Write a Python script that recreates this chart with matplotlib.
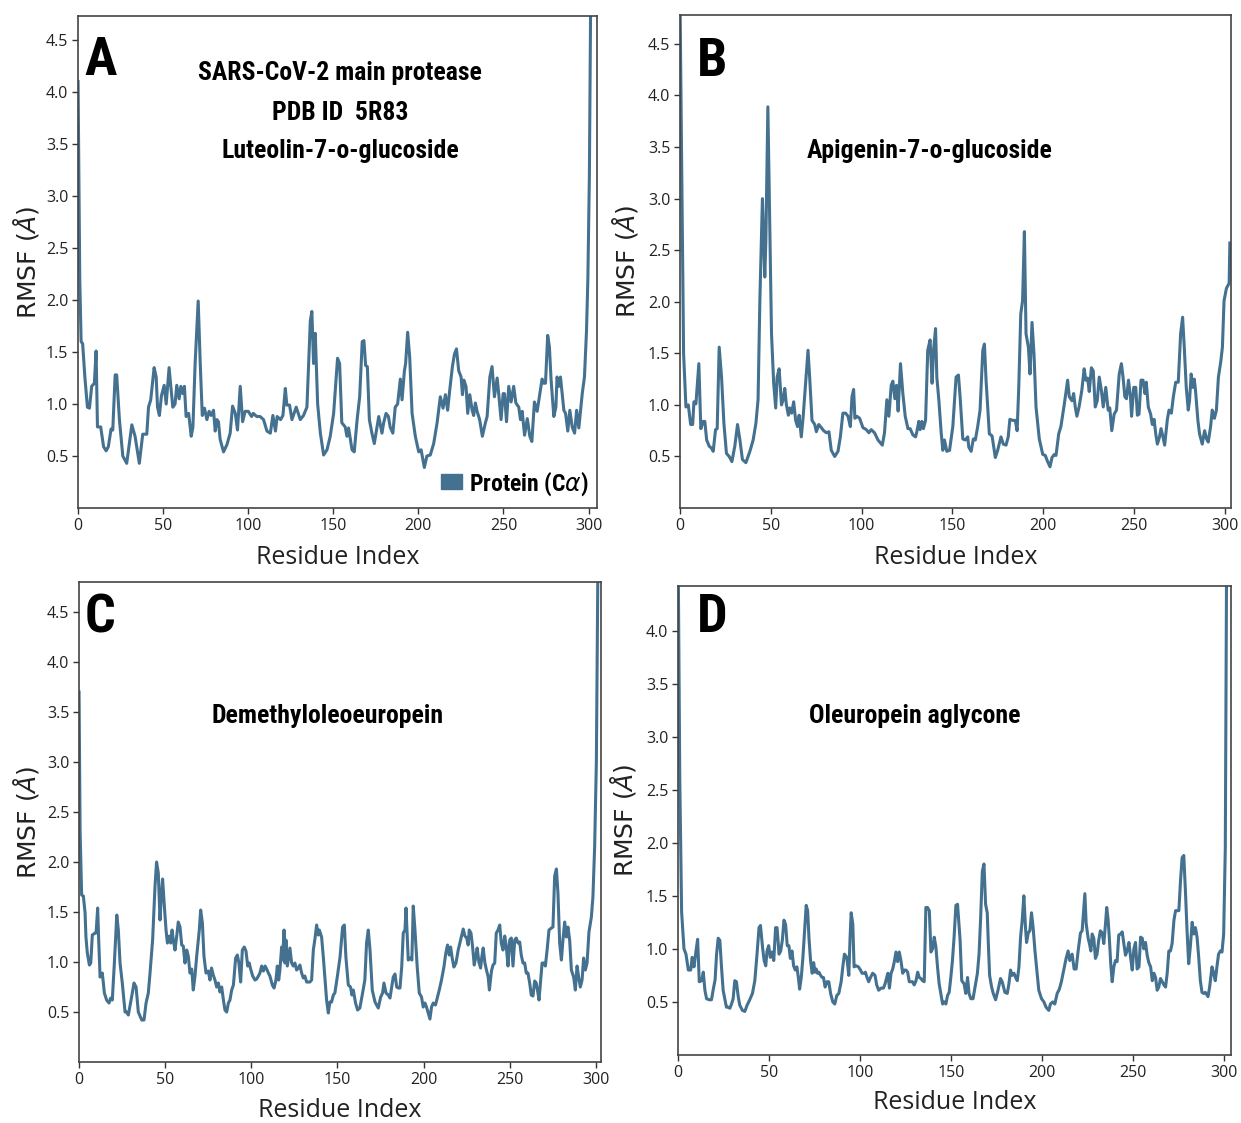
import matplotlib
matplotlib.use("Agg")
import matplotlib.pyplot as plt
from matplotlib.patches import Patch

# Panel A: Luteolin-7-o-glucoside  (residue index, RMSF in Angstrom)
res_a = [0, 1, 1.8, 2.7, 4, 5.5, 6.7, 8, 9.6, 10.6, 11.4, 13.3, 15, 16.5, 17.8, 19.4, 20.4, 21.8, 22.7, 24.3,
         26.3, 28.6, 31.6, 33.5, 36, 38, 40.4, 41.4, 42.7, 44.7, 45.9, 46.7, 47.8, 49, 50.6, 51.8, 53.5, 54.5,
         55.7, 57, 58, 59.4, 60.4, 61.6, 62.5, 63.5, 65, 66.5, 67.5, 68.8, 70.6, 71.8, 73, 74.3, 75.7, 77, 78.2,
         79.6, 80.6, 81.6, 82.5, 83.5, 85.5, 87.5, 89.4, 90.8, 92.4, 93.7, 95.3, 96.7, 98.2, 100, 102, 103, 105,
         107, 109, 111, 113, 114.5, 116, 117, 119, 120.4, 121.8, 122.7, 124.3, 125.7, 128.2, 130.6, 132.5,
         134.5, 136.5, 137.4, 138.4, 139.4, 140.8, 142.4, 144.3, 146.3, 148.2, 150.2, 152.5, 153.7, 155, 157,
         158, 159, 161, 162.3, 164, 165.5, 167, 168, 169, 170, 171.2, 172.7, 174.1, 176.7, 178.6, 179.6, 181,
         182.4, 183.4, 185, 186.4, 187.8, 189.4, 190.4, 191.8, 192.5, 193.7, 194.9, 196.3, 198.2, 200.2, 201.6,
         203.5, 205, 207, 209, 211, 212.9, 214.5, 215.9, 217.2, 218.4, 220, 221.2, 222.4, 223.7, 225.1, 225.9,
         226.7, 228, 229, 230.2, 231.6, 232.5, 233.5, 234.5, 236, 237.6, 239.4, 240.4, 242, 243.3, 244.7, 246.3,
         247.2, 248.6, 249.8, 250.6, 251.8, 253.1, 254.5, 256, 257.3, 259, 260, 261, 262.4, 264, 265.5, 266.7,
         268.2, 269.8, 271.4, 272.7, 273.7, 274.7, 276, 277, 278, 279.6, 280.8, 281.5, 282.5, 283.5, 285.5,
         286.5, 287.8, 289, 290.4, 291.8, 293, 294.3, 296.3, 297.6, 298.8, 299.6, 300.5, 301.3]
rmsf_a = [4.1, 2.2, 1.6, 1.58, 1.26, 0.97, 0.96, 1.17, 1.2, 1.51, 0.78, 0.78, 0.59, 0.55, 0.59, 0.76, 0.75, 1.28,
          1.28, 0.85, 0.5, 0.43, 0.8, 0.69, 0.43, 0.71, 0.71, 0.97, 1.04, 1.35, 1.26, 0.97, 0.89, 1.08, 1.18, 1.0,
          1.35, 1.17, 0.97, 1.0, 1.18, 1.05, 1.17, 1.1, 1.17, 0.88, 0.91, 0.69, 0.78, 1.39, 1.99, 1.39, 0.89, 0.96,
          0.85, 0.93, 0.89, 0.94, 0.74, 0.85, 0.83, 0.66, 0.54, 0.61, 0.72, 0.98, 0.91, 0.75, 1.17, 0.83, 0.93,
          0.93, 0.88, 0.91, 0.88, 0.88, 0.85, 0.74, 0.72, 0.89, 0.74, 0.88, 0.85, 0.89, 1.15, 0.99, 0.99, 0.85,
          0.97, 0.85, 0.89, 0.97, 1.8, 1.89, 1.39, 1.68, 1.0, 0.72, 0.51, 0.56, 0.69, 0.91, 1.44, 1.39, 0.82,
          0.78, 0.69, 0.77, 0.56, 0.54, 0.85, 1.07, 1.6, 1.61, 1.37, 1.36, 0.85, 0.72, 0.62, 0.88, 0.72, 0.82,
          0.91, 0.88, 0.78, 0.72, 0.97, 1.0, 1.24, 1.04, 1.32, 1.39, 1.69, 1.45, 0.91, 0.69, 0.54, 0.56, 0.39,
          0.5, 0.51, 0.62, 0.82, 1.07, 0.96, 1.09, 0.94, 1.13, 1.36, 1.48, 1.53, 1.32, 1.26, 1.09, 1.23, 1.17,
          0.91, 1.09, 0.94, 0.89, 1.01, 0.93, 0.85, 0.69, 0.82, 0.88, 1.26, 1.36, 1.07, 1.25, 1.1, 0.85, 1.1,
          1.1, 0.83, 1.17, 1.02, 1.17, 1.01, 0.97, 0.85, 0.93, 0.7, 0.86, 0.69, 0.64, 1.02, 0.93, 1.1, 1.24,
          1.2, 1.2, 1.66, 1.55, 1.23, 0.88, 0.97, 1.26, 1.17, 1.26, 0.94, 0.91, 0.74, 0.94, 0.78, 0.72, 0.94,
          0.77, 1.1, 1.26, 1.7, 2.2, 3.2, 5.0]

# Panel B: Apigenin-7-o-glucoside
res_b = [0, 1, 2, 3.3, 4.6, 5.9, 7, 7.7, 8.8, 10.4, 11.5, 12.8, 13.7, 14.7, 16.1, 17.4, 18.3, 19.6, 20.5, 21.6,
         22.9, 24.2, 25.6, 27.1, 28.6, 30.2, 31.7, 33, 34.4, 36.3, 38.5, 40.3, 41.8, 43, 44, 45.4, 46.7, 47.3,
         48.4, 49.5, 50.4, 51.6, 52.7, 53.5, 54.6, 55.9, 56.8, 57.7, 58.6, 59.7, 60.4, 61.5, 62.6, 63.7, 64.7,
         65.6, 66.8, 67.8, 69.2, 70.5, 71.4, 72.7, 74.2, 75.1, 76.4, 77.8, 79.1, 80.6, 82, 83.3, 85.2, 87, 88.3,
         89.7, 91.2, 92.5, 93.8, 94.7, 95.6, 96.3, 97.4, 98.9, 100.7, 102.6, 104, 105.3, 107.1, 109, 111.4,
         112.6, 113.9, 115, 116.3, 117.2, 118.3, 119.2, 120.1, 121.4, 122.7, 124, 125.5, 126.7, 128.2, 129.7,
         130.4, 131.5, 132.2, 133.2, 134, 135.2, 136.4, 137.7, 138.8, 139.6, 140.7, 141.4, 142.5, 143.8, 144.7,
         145.6, 146.9, 148.4, 150.2, 152, 153.3, 154.2, 155.7, 157.1, 158.4, 159, 160.3, 161.5, 162.6, 163.9,
         165.2, 166.7, 167.6, 168.5, 170.3, 171.8, 173.6, 174.9, 176.7, 178, 179.5, 180.7, 181.6, 183.2, 184.6,
         185.6, 186.5, 187.6, 188.6, 189.6, 190.5, 191.8, 192.7, 193.8, 194.9, 196, 197.8, 199.7, 201.1, 202.4,
         203.7, 204.8, 206.1, 207, 208.5, 209.7, 211.6, 213.4, 214.3, 215.8, 216.7, 217.6, 218.5, 219.7, 221.2,
         222.5, 223.4, 224.4, 225.3, 226.5, 227.5, 228.6, 229.7, 230.8, 232, 233, 234.4, 235.7, 236.6, 237.7,
         239, 240.3, 241.8, 243, 243.9, 244.9, 245.8, 246.9, 248, 248.6, 249.8, 250.9, 251.8, 252.7, 253.8,
         254.9, 256, 256.7, 257.8, 259.1, 260, 261, 261.9, 262.8, 264, 264.8, 265.9, 266.8, 268.3, 269.2, 270.5,
         271.6, 272.9, 274.3, 275.6, 276.7, 277.6, 278.7, 279.8, 280.5, 281.4, 282.3, 283.1, 283.8, 285.1, 286,
         287.5, 288.8, 289.9, 290.8, 292.1, 293, 294.2, 295.3, 296.4, 297.7, 298.6, 299.5, 300.8, 302.3, 302.7]
rmsf_b = [5.0, 3.2, 1.5, 0.98, 1.0, 0.81, 0.81, 1.03, 1.01, 1.4, 0.77, 0.84, 0.84, 0.66, 0.6, 0.58, 0.55, 0.76,
          0.77, 1.56, 1.27, 0.82, 0.53, 0.5, 0.45, 0.6, 0.81, 0.66, 0.47, 0.44, 0.55, 0.66, 0.82, 1.05, 2.02, 3.0,
          2.24, 2.6, 3.89, 2.66, 1.69, 1.21, 0.97, 1.27, 1.35, 1.0, 1.05, 1.16, 1.0, 0.9, 0.97, 0.92, 1.03, 0.85,
          0.79, 0.9, 0.69, 0.88, 1.21, 1.53, 1.27, 0.85, 0.81, 0.74, 0.81, 0.78, 0.75, 0.73, 0.74, 0.56, 0.5,
          0.55, 0.69, 0.92, 0.92, 0.89, 0.79, 1.08, 1.15, 0.87, 0.89, 0.87, 0.78, 0.76, 0.73, 0.76, 0.73, 0.66,
          0.61, 0.73, 1.05, 0.89, 1.19, 1.23, 1.06, 1.19, 0.94, 1.4, 1.11, 0.89, 0.77, 0.77, 0.71, 0.69, 0.74,
          0.84, 0.76, 0.84, 0.77, 0.85, 1.53, 1.63, 1.21, 1.53, 1.74, 1.27, 1.05, 0.73, 0.56, 0.66, 0.55, 0.56,
          0.79, 1.27, 1.29, 1.08, 0.67, 0.66, 0.69, 0.59, 0.55, 0.67, 0.66, 0.79, 0.95, 1.53, 1.59, 1.24, 0.72,
          0.7, 0.49, 0.56, 0.69, 0.62, 0.61, 0.69, 0.86, 0.85, 0.85, 0.75, 1.17, 1.88, 2.01, 2.68, 1.69, 1.56,
          1.3, 1.8, 1.49, 0.98, 0.67, 0.52, 0.51, 0.45, 0.4, 0.49, 0.52, 0.51, 0.72, 0.79, 1.01, 1.24, 1.08,
          1.04, 1.11, 0.98, 0.89, 0.98, 1.14, 1.35, 1.24, 1.26, 1.13, 1.36, 1.33, 0.98, 1.04, 1.27, 1.14, 0.98,
          1.17, 0.95, 0.97, 0.75, 0.91, 0.95, 1.3, 1.4, 1.27, 1.08, 1.06, 1.24, 1.08, 0.89, 1.17, 1.17, 0.9,
          0.91, 1.24, 1.24, 1.11, 1.22, 0.98, 0.91, 0.81, 0.86, 0.72, 0.62, 0.69, 0.77, 0.69, 0.61, 0.86, 0.95,
          0.92, 1.08, 1.22, 1.22, 1.69, 1.85, 1.56, 1.17, 0.95, 1.04, 1.3, 1.17, 1.25, 1.14, 0.85, 0.72, 0.62,
          0.75, 0.67, 0.64, 0.79, 0.95, 0.87, 0.95, 1.27, 1.42, 1.56, 2.01, 2.13, 2.18, 2.57]

# Panel C: Demethyloleoeuropein
res_c = [0, 0.6, 1.5, 2.5, 3.5, 4, 4.8, 6, 6.8, 7.7, 9.3, 9.9, 10.8, 11.4, 12.2, 13.5, 14.7, 16, 17.4, 18.4,
         19.3, 20.5, 21.9, 22.8, 23.8, 25.1, 26.7, 27.7, 28.6, 30.2, 31.9, 33.1, 34.4, 36.4, 37.7, 38.9, 40.2,
         41.2, 42.7, 44.1, 45, 46, 47, 47.6, 48.5, 49.5, 50.5, 51.3, 52.4, 53.2, 54, 54.7, 55.7, 56.7, 57.6,
         58.6, 59.6, 60.5, 61.5, 62.5, 63.4, 64.4, 65.4, 66.3, 67.3, 68.3, 69.8, 70.6, 71.6, 72.5, 73.7, 75, 76,
         76.9, 77.9, 78.9, 79.9, 80.9, 81.8, 82.8, 83.8, 84.7, 85.7, 86.7, 87.6, 88.6, 89.6, 90.9, 91.9, 92.8,
         93.8, 94.8, 95.9, 96.9, 97.9, 98.8, 99.6, 100.8, 102.1, 103.1, 104.1, 105, 106, 107, 108, 108.9, 109.9,
         110.8, 112.2, 113.2, 114.3, 115.1, 115.9, 116.6, 117.6, 118.2, 119, 119.5, 120.1, 120.9, 121.7, 122.4,
         123.4, 124.4, 125.3, 126.3, 127.3, 128.2, 129.2, 130.2, 131.1, 132.1, 133.1, 134, 135, 136, 137, 137.9,
         138.9, 139.5, 140.8, 141.8, 142.7, 143.7, 144.7, 145.6, 146.6, 147.6, 148.5, 149.9, 151.5, 153, 154,
         154.9, 156.3, 157.6, 158.4, 159.2, 160.5, 161.7, 163, 164.6, 165.9, 166.9, 167.9, 168.9, 170.2, 171.8,
         173.7, 175.1, 176.2, 177, 178.2, 179.5, 180.5, 181.5, 182.4, 183.4, 184.4, 185.3, 186.3, 187.3, 188.2,
         189.2, 189.8, 190.5, 191.1, 192.4, 193.2, 194, 195, 196.3, 197.5, 198.8, 199.8, 200.8, 201.7, 202.7,
         203.7, 204.6, 205.6, 206.9, 207.9, 209.1, 210.4, 211.8, 212.9, 213.9, 214.9, 215.7, 216.6, 217.6,
         218.8, 220.1, 221.5, 223, 224, 225, 225.9, 226.5, 227.5, 228.4, 229.4, 230.2, 231.1, 232.1, 233.1,
         233.8, 234.6, 235.6, 236.5, 237.5, 238.2, 239.4, 240.3, 241.3, 242.2, 243.2, 244.2, 245.1, 246.1,
         247.1, 248, 249, 250, 250.9, 251.9, 252.9, 253.8, 254.8, 255.8, 256.7, 257.7, 258.7, 259.6, 260.6,
         261.6, 262.5, 263.5, 264.5, 265.4, 266.4, 267, 267.8, 268.8, 269.7, 270.7, 271.7, 272.8, 274.2, 275.1,
         276.1, 277.1, 278, 279, 280, 280.9, 281.9, 282.9, 283.8, 284.8, 285.8, 287.1, 288.1, 289.1, 290, 291,
         292, 292.9, 293.9, 294.9, 296, 297.4, 298.3, 299.3, 300.3, 301.2]
rmsf_c = [3.7, 2.32, 1.67, 1.66, 1.49, 1.25, 1.09, 0.97, 0.99, 1.27, 1.29, 1.29, 1.54, 1.22, 0.85, 0.89, 0.69,
          0.62, 0.59, 0.64, 0.62, 0.99, 1.47, 1.32, 0.99, 0.79, 0.5, 0.5, 0.47, 0.62, 0.79, 0.75, 0.5, 0.42,
          0.42, 0.59, 0.69, 0.89, 1.22, 1.76, 2.0, 1.89, 1.42, 1.62, 1.83, 1.56, 1.32, 1.19, 1.26, 1.19, 1.32,
          1.22, 1.12, 1.26, 1.4, 1.35, 1.17, 1.16, 0.99, 1.12, 1.06, 0.89, 0.93, 0.72, 0.86, 1.06, 1.32, 1.52,
          1.39, 1.06, 0.89, 0.91, 0.82, 0.94, 0.87, 0.82, 0.75, 0.79, 0.7, 0.75, 0.62, 0.52, 0.5, 0.59, 0.62,
          0.72, 0.77, 1.04, 1.07, 0.99, 0.8, 1.12, 1.15, 1.11, 0.96, 0.99, 0.93, 0.86, 0.82, 0.83, 0.86, 0.89,
          0.96, 0.91, 0.96, 0.93, 0.89, 0.86, 0.77, 0.74, 0.82, 0.96, 0.82, 0.92, 1.15, 1.02, 1.32, 0.99, 1.22,
          0.96, 1.06, 1.14, 0.99, 0.96, 0.99, 0.92, 0.94, 0.97, 0.89, 0.84, 0.86, 0.8, 0.8, 0.8, 0.82, 1.12,
          1.24, 1.37, 1.27, 1.32, 1.25, 1.05, 0.85, 0.62, 0.49, 0.6, 0.6, 0.67, 0.69, 0.85, 1.05, 1.35, 1.37,
          1.05, 0.77, 0.75, 0.67, 0.72, 0.59, 0.52, 0.54, 0.69, 0.82, 1.19, 1.32, 1.12, 0.72, 0.6, 0.54, 0.65,
          0.69, 0.79, 0.69, 0.67, 0.64, 0.75, 0.85, 0.88, 0.75, 0.74, 0.74, 0.95, 1.29, 1.32, 1.54, 1.25, 1.02,
          1.04, 1.02, 1.56, 1.32, 0.95, 0.69, 0.65, 0.55, 0.59, 0.55, 0.49, 0.43, 0.55, 0.59, 0.57, 0.64, 0.72,
          0.82, 0.95, 1.09, 1.17, 1.07, 1.15, 1.04, 0.95, 0.99, 1.12, 1.22, 1.33, 1.26, 1.24, 1.17, 1.32, 1.29,
          1.16, 0.97, 1.04, 1.14, 1.0, 0.94, 1.05, 1.14, 0.99, 0.92, 0.85, 0.72, 0.91, 0.97, 0.99, 1.29, 1.32,
          1.37, 1.19, 1.12, 1.26, 1.16, 0.96, 1.22, 1.24, 0.96, 1.22, 1.24, 1.19, 1.2, 1.07, 0.99, 0.99, 0.89,
          0.89, 0.79, 0.67, 0.66, 0.81, 0.79, 0.69, 0.62, 0.79, 0.99, 0.99, 0.96, 1.12, 1.32, 1.34, 1.35, 1.86,
          1.93, 1.69, 1.19, 1.02, 1.22, 1.4, 1.25, 1.35, 1.22, 0.92, 0.85, 0.72, 0.96, 0.85, 0.75, 0.82, 1.04,
          0.92, 0.99, 1.3, 1.45, 1.65, 2.15, 3.0, 5.0]

# Panel D: Oleuropein aglycone
res_d = [0, 1, 2, 3.3, 4.4, 5.7, 7, 7.8, 8.8, 9.9, 10.8, 11.7, 13, 13.9, 14.8, 15.7, 17.2, 18.4, 19.3, 20.4,
         21.2, 22.1, 23, 23.9, 24.8, 25.7, 26.6, 27.6, 28.5, 29.4, 30.3, 31.2, 32.1, 33, 33.9, 35.4, 36.7, 38,
         39.4, 40.9, 42.2, 43.4, 44.5, 45.3, 46.4, 47.3, 48.2, 48.9, 49.8, 50.7, 51.6, 52.6, 53.6, 54.4, 55.5,
         56.4, 57.3, 58.2, 59.1, 60, 60.9, 61.7, 62.6, 63.5, 64.4, 65.3, 66.1, 66.8, 67.7, 68.6, 69.5, 70.4,
         71.2, 71.9, 72.8, 73.7, 74.5, 75.2, 75.9, 76.6, 77.4, 78.3, 79.2, 79.9, 80.8, 81.8, 82.8, 83.8, 85,
         86.1, 87.2, 88.3, 89.6, 90.5, 91.4, 92.7, 93.8, 94.5, 95.1, 96, 96.7, 97.8, 99.1, 100.2, 101.1, 102.2,
         102.9, 103.8, 104.7, 105.7, 106.9, 108.2, 109.1, 110.2, 111.5, 112.8, 113.7, 114.6, 115.3, 116.1, 117,
         117.9, 118.8, 119.7, 120.6, 121.5, 122.4, 123.4, 124.3, 125.2, 126.1, 127, 127.9, 128.8, 129.7, 130.7,
         131.6, 132.5, 133.4, 134.3, 135.2, 136.1, 137, 138, 138.9, 139.8, 140.7, 141.6, 142.5, 143.4, 144.3,
         145.3, 146.2, 147.1, 148, 148.9, 149.8, 150.7, 151.6, 152.6, 153.5, 154.9, 155.8, 157.1, 158, 159,
         159.8, 160.8, 162, 163.1, 164.4, 165.3, 166.2, 167.1, 168, 168.9, 169.8, 170.4, 171.1, 172.2, 173.1,
         174.4, 175.7, 177.1, 178, 179.5, 180.8, 181.7, 182.6, 183.5, 184.5, 185.4, 186.3, 187.2, 188.1, 189,
         189.9, 190.8, 191.4, 192.3, 193.2, 194.1, 195, 196, 197.2, 198.1, 199.6, 200.9, 202.1, 203.6, 204.5,
         205.8, 206.9, 208.2, 209.4, 210.5, 211.8, 213.1, 214.2, 215.1, 216.4, 217.5, 218.6, 219.7, 221, 221.9,
         222.6, 223.4, 224.1, 225.2, 225.9, 226.7, 227.4, 228.3, 229.2, 230.1, 231, 231.9, 232.9, 233.8, 234.7,
         235.4, 236.2, 236.9, 237.6, 238.4, 239.3, 240.2, 241.1, 242, 243, 243.9, 244.8, 245.7, 246.6, 247.6,
         248.5, 249.4, 250.3, 251.2, 252.1, 253.1, 254, 254.9, 255.8, 256.7, 257.6, 258.5, 259.5, 260.4, 261.3,
         262.2, 263.1, 264, 264.9, 265.9, 266.8, 267.7, 268.6, 269.5, 270.4, 271.3, 272.3, 273.2, 274.1, 275,
         275.9, 276.8, 277.7, 278.6, 279.5, 280.4, 281.3, 282.3, 283.2, 284.1, 285, 285.9, 286.8, 287.7, 288.6,
         289.5, 291, 291.9, 293.2, 294.1, 295, 295.9, 296.8, 297.8, 298.7, 299.6, 300.5, 301.3]
rmsf_d = [5.0, 2.6, 1.35, 1.0, 0.95, 0.8, 0.8, 0.92, 0.83, 0.98, 1.09, 0.69, 0.7, 0.78, 0.61, 0.53, 0.52, 0.52,
          0.61, 0.71, 0.95, 1.1, 1.08, 0.83, 0.61, 0.53, 0.45, 0.45, 0.44, 0.48, 0.53, 0.7, 0.69, 0.56, 0.47,
          0.42, 0.41, 0.47, 0.52, 0.58, 0.7, 0.95, 1.2, 1.22, 1.02, 0.89, 0.84, 0.98, 1.03, 0.92, 0.97, 0.89,
          1.2, 1.2, 0.95, 0.98, 1.08, 1.27, 1.23, 1.03, 1.03, 0.91, 0.98, 0.84, 0.8, 0.83, 0.73, 0.62, 0.73,
          0.92, 1.17, 1.41, 1.36, 1.11, 0.89, 0.77, 0.87, 0.78, 0.81, 0.77, 0.78, 0.75, 0.73, 0.73, 0.64, 0.69,
          0.69, 0.58, 0.5, 0.48, 0.56, 0.58, 0.69, 0.83, 0.95, 0.92, 0.75, 1.11, 1.34, 1.23, 0.83, 0.84, 0.83,
          0.8, 0.77, 0.77, 0.78, 0.73, 0.69, 0.73, 0.77, 0.75, 0.66, 0.61, 0.63, 0.63, 0.67, 0.73, 0.77, 0.63,
          0.77, 0.81, 0.88, 0.97, 0.88, 0.97, 0.89, 0.77, 0.8, 0.8, 0.78, 0.69, 0.69, 0.69, 0.66, 0.7, 0.78,
          0.73, 0.72, 0.7, 0.69, 1.39, 1.39, 1.36, 0.97, 1.0, 1.11, 1.02, 0.83, 0.67, 0.58, 0.48, 0.5, 0.48,
          0.56, 0.59, 0.73, 0.89, 1.11, 1.41, 1.42, 1.08, 0.7, 0.67, 0.58, 0.73, 0.58, 0.53, 0.53, 0.64, 0.77,
          0.95, 1.3, 1.73, 1.8, 1.42, 1.34, 1.05, 0.75, 0.64, 0.58, 0.52, 0.61, 0.72, 0.69, 0.59, 0.58, 0.67,
          0.8, 0.75, 0.77, 0.73, 0.7, 0.83, 1.11, 1.27, 1.5, 1.2, 1.06, 1.15, 1.17, 1.34, 1.2, 0.98, 0.77, 0.61,
          0.53, 0.5, 0.45, 0.42, 0.48, 0.5, 0.48, 0.58, 0.62, 0.69, 0.8, 0.91, 0.98, 0.89, 0.95, 0.81, 0.81,
          0.98, 1.15, 1.17, 1.33, 1.52, 1.24, 1.1, 1.05, 0.98, 1.14, 1.1, 0.91, 0.95, 1.08, 1.17, 1.15, 1.05,
          1.23, 1.39, 1.27, 1.08, 0.86, 0.69, 0.83, 0.89, 0.88, 1.13, 1.14, 1.16, 1.05, 0.94, 0.98, 1.06, 0.92,
          0.8, 1.0, 1.06, 0.81, 0.83, 1.11, 1.1, 1.0, 1.06, 0.94, 0.87, 0.83, 0.7, 0.77, 0.73, 0.61, 0.64, 0.72,
          0.69, 0.66, 0.64, 0.77, 0.98, 0.98, 1.05, 1.27, 1.36, 1.36, 1.36, 1.64, 1.86, 1.88, 1.55, 1.17, 0.86,
          1.02, 1.25, 1.14, 1.2, 1.11, 0.92, 0.7, 0.59, 0.58, 0.59, 0.55, 0.64, 0.83, 0.77, 0.7, 0.83, 0.95,
          0.98, 0.97, 1.14, 1.95, 5.0]

letters = ["A", "B", "C", "D"]
titles = [["SARS-CoV-2 main protease", "PDB ID  5R83", "Luteolin-7-o-glucoside"],
          ["Apigenin-7-o-glucoside"], ["Demethyloleoeuropein"], ["Oleuropein aglycone"]]
yticks_all = [[0.5, 1.0, 1.5, 2.0, 2.5, 3.0, 3.5, 4.0, 4.5]] * 3 + [[0.5, 1.0, 1.5, 2.0, 2.5, 3.0, 3.5, 4.0]]
xticks = [0, 50, 100, 150, 200, 250, 300]

color = "#43718f"
# condensed bold look for the panel titles; first installed family wins
cond = ["DejaVu Sans Condensed", "Roboto Condensed", "Open Sans Condensed", "Liberation Sans Narrow",
        "Roboto", "DejaVu Sans"]

fig = plt.figure(figsize=(12.41, 11.23), dpi=100)
boxes = [[0.0629, 0.5476, 0.4182, 0.4381], [0.5479, 0.5476, 0.4440, 0.4390],
         [0.0637, 0.0543, 0.4206, 0.4274], [0.5463, 0.0606, 0.4456, 0.4176]]
xlims = [305, 303.3, 303, 303.6]
ylims = [4.73, 4.78, 4.8, 4.42]
letter_pos = [(0.013, 0.91), (0.031, 0.905), (0.011, 0.925), (0.034, 0.932)]
title_pos = [(0.505, [0.884, 0.803, 0.726]), (0.454, [0.724]), (0.477, [0.721]), (0.429, [0.723])]
series = [(res_a, rmsf_a), (res_b, rmsf_b), (res_c, rmsf_c), (res_d, rmsf_d)]

for i in range(4):
    ax = fig.add_axes(boxes[i])
    x, y = series[i]
    ax.plot(x, y, color=color, lw=2.2)
    ax.set_xlim(0, xlims[i])
    ax.set_ylim(0, ylims[i])
    ax.set_xticks(xticks)
    ax.set_yticks(yticks_all[i])
    ax.set_yticklabels([f"{v:.1f}" for v in yticks_all[i]])
    for lab in ax.get_xticklabels() + ax.get_yticklabels():
        lab.set_family("Open Sans")
        lab.set_fontsize(11.5)
        lab.set_color("#222222")
    ax.tick_params(length=4, width=1, color="#333333", pad=3)
    for s in ax.spines.values():
        s.set_color("#444444")
        s.set_linewidth(1.2)
    ax.set_xlabel("Residue Index", family="Open Sans", fontsize=18, color="#222222")
    ax.xaxis.set_label_coords(0.5, -0.075)
    ax.set_ylabel(r"RMSF ($\AA$)", family="DejaVu Sans", fontsize=18, color="#222222")
    ax.yaxis.set_label_coords(-0.072, 0.5)

    lx, ly = letter_pos[i]
    ax.text(lx, ly, letters[i], transform=ax.transAxes, family=cond, fontweight="heavy",
            fontstretch="condensed", fontsize=39, ha="left", va="center")
    tx, tys = title_pos[i]
    for t, ty in zip(titles[i], tys):
        ax.text(tx, ty, t, transform=ax.transAxes, family=cond, fontweight="bold",
                fontstretch="condensed", fontsize=18.5, ha="center", va="center")

    if i == 0:
        h = Patch(facecolor=color, edgecolor=color)
        ax.legend([h], [r"Protein (C$\mathit{\alpha}$)"], loc="lower right", frameon=False,
                  bbox_to_anchor=(1.025, -0.022), handlelength=0.9, handleheight=0.6, handletextpad=0.3,
                  prop={"family": cond, "weight": "bold", "stretch": "condensed", "size": 17})

fig.savefig("out.png", dpi=100)
